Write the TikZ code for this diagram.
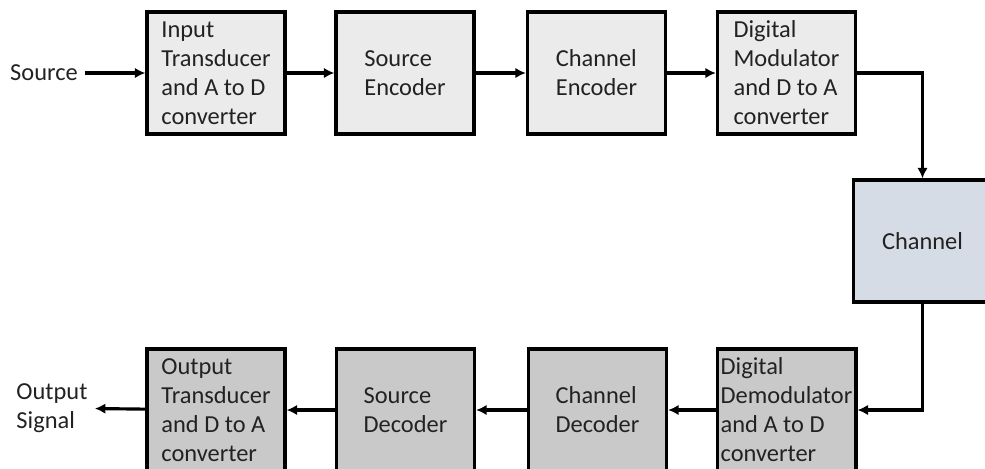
\documentclass[tikz,border=0pt]{standalone}
\usepackage{fontspec}
\setmainfont{Carlito}
\usetikzlibrary{arrows.meta}
\definecolor{txtgray}{HTML}{222222}
\definecolor{upfill}{HTML}{EBEBEB}
\definecolor{chfill}{HTML}{D6DCE5}
\definecolor{downfill}{HTML}{C9C9C9}
\tikzset{
    blockbox/.style={draw, line width=1.9pt, minimum width=2.76cm, minimum height=2.44cm,
        align=left, text=txtgray, inner sep=2pt},
    label/.style={align=left, text=txtgray, inner sep=4pt},
    link/.style={line width=1.8pt, -{Latex[length=6pt,width=6pt]}}
}
\begin{document}
\begin{tikzpicture}[x=0.02cm, y=-0.02cm, font=\fontsize{13.9}{16.5}\selectfont]
        \useasboundingbox (0, 0) rectangle (985, 468);
        % transmitter
        \node[label] (src) at (44, 73) {Source};
        \node[blockbox, fill=upfill] (itrans) at (216, 73) {Input\\Transducer\\and A to D\\converter};
        \node[blockbox, fill=upfill] (senc) at (405, 73) {Source\\Encoder};
        \node[blockbox, fill=upfill] (cenc) at (596.5, 73) {Channel\\Encoder};
        \node[blockbox, fill=upfill] (dmod) at (786.5, 73) {Digital\\Modulator\\and D to A\\converter};
        \node[blockbox, fill=chfill] (chan) at (922.5, 241) {Channel};
        % receiver
        \node[blockbox, fill=downfill] (ddemod) at (786.5, 410) {Digital\\Demodulator\\and A to D\\converter};
        \node[blockbox, fill=downfill] (cdec) at (597.5, 410) {Channel\\Decoder};
        \node[blockbox, fill=downfill] (sdec) at (405.5, 410) {Source\\Decoder};
        \node[blockbox, fill=downfill] (otrans) at (216, 410) {Output\\Transducer\\and D to A\\converter};
        \node[label] (out) at (52, 408) {Output\\Signal};
        \draw[link] (src) -- (itrans);
        \draw[link] (itrans) -- (senc);
        \draw[link] (senc) -- (cenc);
        \draw[link] (cenc) -- (dmod);
        \draw[link] (dmod.east) -| (chan.north);
        \draw[link] (chan.south) |- (ddemod.east);
        \draw[link] (ddemod) -- (cdec);
        \draw[link] (cdec) -- (sdec);
        \draw[link] (sdec) -- (otrans);
        \draw[link] (otrans) -- (out);
\end{tikzpicture}
\end{document}
